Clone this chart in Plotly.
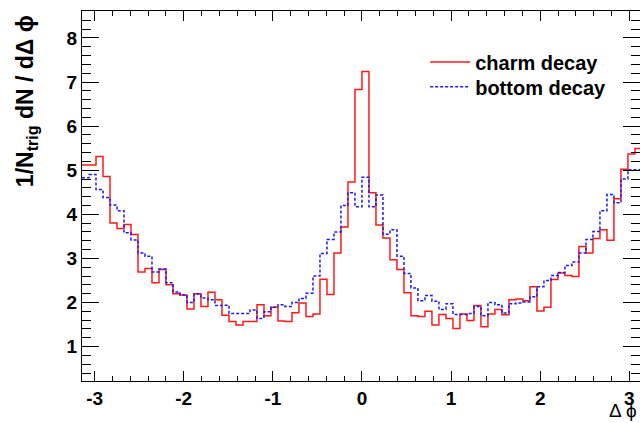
import numpy as np
import plotly.graph_objects as go

# Delta-phi correlation histograms, 80 bins over [-pi, pi]
n_bins = 80
charm_decay = [
    5.12, 5.12, 5.31, 4.86, 3.80, 3.68, 3.77, 3.54, 2.69, 2.77,
    2.45, 2.75, 2.40, 2.20, 2.17, 1.85, 2.20, 1.91, 2.23, 2.06,
    1.71, 1.57, 1.49, 1.57, 1.57, 1.95, 1.70, 1.89, 1.58, 1.57,
    1.77, 1.99, 1.68, 1.74, 2.53, 2.18, 3.12, 3.71, 4.73, 6.83,
    7.24, 4.49, 3.76, 3.46, 2.97, 2.75, 2.22, 1.70, 1.68, 1.80,
    1.49, 1.73, 1.64, 1.41, 1.74, 1.59, 1.93, 1.45, 1.74, 1.84,
    1.72, 2.06, 2.08, 2.04, 2.36, 1.81, 1.89, 2.52, 2.67, 2.61,
    2.59, 3.27, 3.12, 3.45, 3.65, 3.41, 4.35, 5.02, 5.37, 5.49,
]
bottom_decay = [
    4.83, 4.90, 4.56, 4.38, 4.21, 4.08, 3.58, 3.42, 3.12, 3.05,
    2.69, 2.76, 2.45, 2.24, 2.17, 2.00, 2.19, 2.10, 2.06, 1.93,
    1.94, 1.75, 1.75, 1.75, 1.83, 1.64, 1.79, 1.89, 1.95, 1.91,
    2.00, 2.09, 2.21, 2.60, 3.11, 3.43, 3.60, 4.20, 4.49, 4.17,
    4.84, 4.17, 4.44, 3.55, 3.65, 3.05, 2.66, 2.33, 2.04, 2.16,
    2.03, 1.84, 1.97, 1.73, 1.73, 1.75, 1.91, 1.70, 2.00, 1.95,
    1.76, 1.97, 1.99, 2.01, 2.13, 2.36, 2.50, 2.61, 2.68, 2.84,
    2.92, 3.12, 3.43, 3.61, 4.08, 4.45, 4.26, 4.80, 5.01, 5.01,
]
x_ticks = [-3, -2, -1, 0, 1, 2, 3]
x_tick_labels = ["-3", "-2", "-1", "0", "1", "2", "3"]
y_ticks = [1, 2, 3, 4, 5, 6, 7, 8]

edges = np.linspace(-np.pi, np.pi, n_bins + 1)


def step_y(values):
    # repeat the last content so the final bin gets its full width
    return list(values) + [values[-1]]


FONT = "Liberation Sans, Arial, Helvetica, sans-serif"

fig = go.Figure()
fig.add_trace(go.Scatter(
    x=edges, y=step_y(charm_decay), mode="lines", line_shape="hv",
    name="charm decay", line=dict(color="#ff1a1a", width=1.5),
    legend="legend",
))
fig.add_trace(go.Scatter(
    x=edges, y=step_y(bottom_decay), mode="lines", line_shape="hv",
    name="bottom decay", line=dict(color="#1a1aff", width=1.5, dash="3px,2px"),
    legend="legend2",
))

axis_common = dict(
    showgrid=False, zeroline=False, showline=True, linecolor="black",
    linewidth=1, mirror="allticks", ticks="inside", tickcolor="black",
    tickfont=dict(family=FONT, size=19, color="black", weight="bold"),
)

fig.update_xaxes(
    range=[-np.pi, 3.12],
    tickmode="array", tickvals=x_ticks, ticktext=x_tick_labels,
    ticklen=10,
    minor=dict(tickvals=list(np.round(np.arange(-3.0, 3.01, 0.2), 2)),
               ticks="inside", ticklen=5, tickcolor="black"),
    **axis_common,
)
fig.update_yaxes(
    range=[0.22, 8.61],
    tickmode="array", tickvals=y_ticks, ticktext=[str(v) for v in y_ticks],
    ticklen=17,
    minor=dict(tickvals=list(np.round(np.arange(0.4, 8.61, 0.2), 2)),
               ticks="inside", ticklen=9, tickcolor="black"),
    **axis_common,
)

fig.add_annotation(
    text="<b>1/N<sub>trig</sub> dN / dΔ ϕ</b>", textangle=-90,
    xref="paper", yref="paper", x=-0.098, y=0.995,
    xanchor="center", yanchor="top", showarrow=False,
    font=dict(family=FONT, size=23, color="black"),
)
fig.add_annotation(
    text="Δ ϕ", xref="paper", yref="paper", x=0.997, y=-0.081,
    xanchor="right", yanchor="middle", showarrow=False, borderpad=0,
    font=dict(family=FONT, size=19, color="black"),
)

legend_style = dict(
    xanchor="left", yanchor="top",
    bgcolor="rgba(0,0,0,0)", borderwidth=0,
    font=dict(family=FONT, size=20, color="black", weight="bold"),
    itemwidth=40,
)

fig.update_layout(
    width=640, height=423,
    margin=dict(l=82, r=0, t=11, b=42),
    paper_bgcolor="white", plot_bgcolor="white",
    showlegend=True,
    legend=dict(x=0.615, y=0.915, **legend_style),
    legend2=dict(x=0.615, y=0.848, **legend_style),
)

fig.write_html("out.html")
